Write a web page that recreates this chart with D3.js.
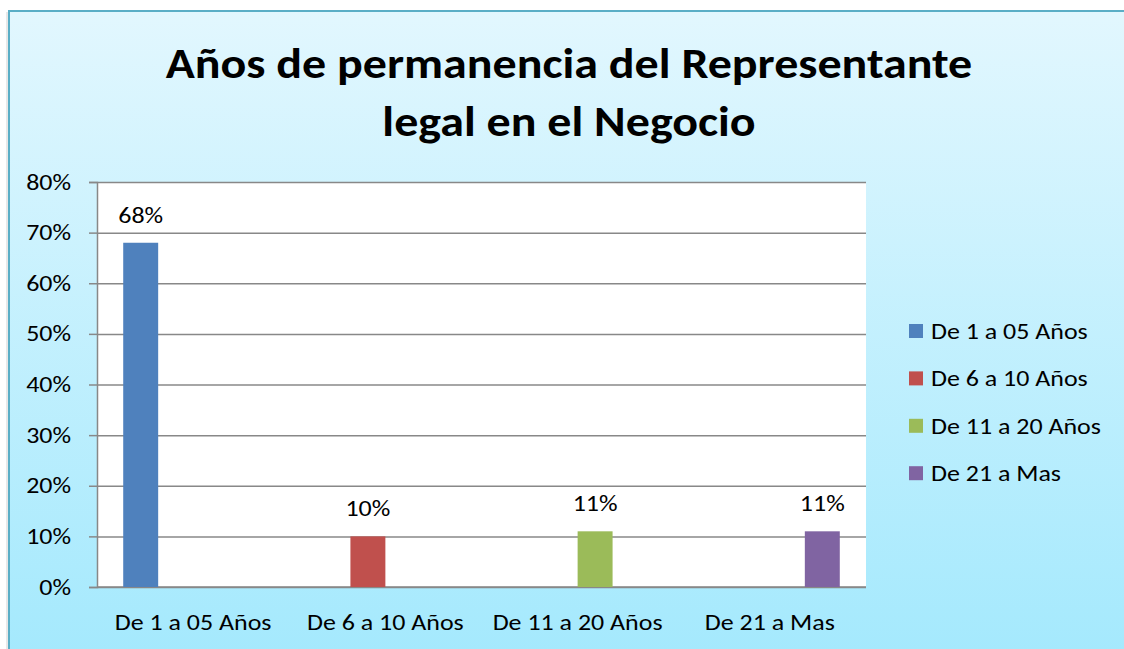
<!DOCTYPE html>
<html>
<head>
<meta charset="utf-8">
<script src="https://cdn.jsdelivr.net/npm/d3@7"></script>
<style>
  html, body { margin: 0; padding: 0; background: #fff; }
  svg { display: block; font-family: Carlito, Calibri, Lato, sans-serif; }
</style>
</head>
<body>
<div id="main"></div>
<script>
const ctx = {
    w: 1124,
    h: 649,
    FONT: 22,
    SMALL_STRETCH: 1.18,   // the reference image is stretched sideways
    TITLE_STRETCH: 1.116
};

// data
const categories = ["De 1 a 05 Años", "De 6 a 10 Años", "De 11 a 20 Años", "De 21 a Mas"];
const values = [0.68, 0.10, 0.11, 0.11];
const seriesColors = ["#4f81bd", "#c0504d", "#9bbb59", "#8064a2"];
const yTicks = [0, 0.1, 0.2, 0.3, 0.4, 0.5, 0.6, 0.7, 0.8];
const titleLines = ["Años de permanencia del Representante", "legal en el Negocio"];

// widen text horizontally to mimic the stretched original
function stretch(sel, k) {
    sel.each(function () {
        let len = this.getComputedTextLength();
        d3.select(this)
            .attr("textLength", len * k)
            .attr("lengthAdjust", "spacingAndGlyphs");
    });
}

function createViz() {
    let svg = d3.select("#main").append("svg")
        .attr("width", ctx.w)
        .attr("height", ctx.h);

    // background gradient of the chart frame
    let defs = svg.append("defs");
    let grad = defs.append("linearGradient")
        .attr("id", "bgGrad")
        .attr("x1", 0).attr("y1", 0).attr("x2", 0).attr("y2", 1);
    grad.append("stop").attr("offset", "0%").attr("stop-color", "#e2f7fe");
    grad.append("stop").attr("offset", "100%").attr("stop-color", "#a4e9fd");

    svg.append("rect")
        .attr("x", 6).attr("y", 12)
        .attr("width", ctx.w).attr("height", ctx.h)
        .attr("fill", "#e8e8e8");
    svg.append("rect")
        .attr("x", 9).attr("y", 11)
        .attr("width", ctx.w).attr("height", ctx.h)
        .attr("fill", "url(#bgGrad)")
        .attr("stroke", "#5aaec6")
        .attr("stroke-width", 2);

    // title
    let title = svg.append("text")
        .attr("text-anchor", "middle")
        .attr("font-weight", "bold")
        .attr("font-size", 43)
        .attr("fill", "#000");
    titleLines.forEach((t, i) => {
        title.append("tspan")
            .attr("x", 569)
            .attr("y", 78 + i * 58)
            .text(t)
            .call(stretch, ctx.TITLE_STRETCH);
    });

    // plot area
    const plot = { left: 97, top: 182, right: 866, bottom: 587 };
    svg.append("rect")
        .attr("x", plot.left).attr("y", plot.top)
        .attr("width", plot.right - plot.left)
        .attr("height", plot.bottom - plot.top)
        .attr("fill", "#fff");

    let yScale = d3.scaleLinear()
        .domain([0, 0.8])
        .range([plot.bottom, plot.top]);
    let x0 = d3.scaleBand()
        .domain(categories)
        .range([plot.left, plot.right])
        .padding(0);
    let x1 = d3.scaleBand()
        .domain(categories)
        .range([0, x0.bandwidth()])
        .paddingInner(0)
        .paddingOuter(0.75);

    // gridlines
    let grid = d3.axisLeft(yScale)
        .tickValues(yTicks)
        .tickSize(-(plot.right - plot.left))
        .tickFormat("");
    svg.append("g")
        .attr("transform", "translate(" + plot.left + ",0)")
        .call(grid)
        .call(g => g.select(".domain").remove())
        .call(g => g.selectAll("line").attr("stroke", "#888").attr("stroke-width", 1.5));

    // y axis
    let yAxis = d3.axisLeft(yScale)
        .tickValues(yTicks)
        .tickSize(8)
        .tickPadding(18)
        .tickFormat(d3.format(".0%"));
    svg.append("g")
        .attr("transform", "translate(" + plot.left + ",0)")
        .call(yAxis)
        .call(g => g.select(".domain").attr("stroke", "#888").attr("stroke-width", 1.5))
        .call(g => g.selectAll("line").attr("stroke", "#888").attr("stroke-width", 1.5))
        .call(g => g.selectAll("text")
            .attr("font-size", ctx.FONT)
            .attr("font-family", "Carlito, Calibri, Lato, sans-serif")
            .attr("fill", "#000")
            .call(stretch, ctx.SMALL_STRETCH));

    // x axis line (baseline)
    svg.append("line")
        .attr("x1", plot.left).attr("x2", plot.right)
        .attr("y1", yScale(0)).attr("y2", yScale(0))
        .attr("stroke", "#888").attr("stroke-width", 1.5);

    // bars: each series only has a value in its own category
    let bars = svg.append("g").selectAll("g")
        .data(categories)
        .enter()
        .append("g")
        .attr("transform", (d) => "translate(" + x0(d) + ",0)");
    bars.append("rect")
        .attr("x", (d) => x1(d))
        .attr("y", (d, i) => yScale(values[i]))
        .attr("width", x1.bandwidth())
        .attr("height", (d, i) => yScale(0) - yScale(values[i]))
        .attr("fill", (d, i) => seriesColors[i]);
    bars.append("text")
        .attr("x", (d) => x1(d) + x1.bandwidth() / 2)
        .attr("y", (d, i) => yScale(values[i]) - 20)
        .attr("text-anchor", "middle")
        .attr("font-size", ctx.FONT)
        .text((d, i) => d3.format(".0%")(values[i]))
        .call(stretch, ctx.SMALL_STRETCH);

    // category labels
    svg.append("g").selectAll("text")
        .data(categories)
        .enter()
        .append("text")
        .attr("x", (d) => x0(d) + x0.bandwidth() / 2)
        .attr("y", 630)
        .attr("text-anchor", "middle")
        .attr("font-size", ctx.FONT)
        .text((d) => d)
        .call(stretch, ctx.SMALL_STRETCH);

    // legend
    let legend = svg.append("g").selectAll("g")
        .data(categories)
        .enter()
        .append("g")
        .attr("transform", (d, i) => "translate(909," + (331 + i * 47.4) + ")");
    legend.append("rect")
        .attr("x", 0).attr("y", -7)
        .attr("width", 14).attr("height", 14)
        .attr("fill", (d, i) => seriesColors[i]);
    legend.append("text")
        .attr("x", 22)
        .attr("y", 8)
        .attr("font-size", ctx.FONT)
        .text((d) => d)
        .call(stretch, ctx.SMALL_STRETCH);
}

createViz();
</script>
</body>
</html>
